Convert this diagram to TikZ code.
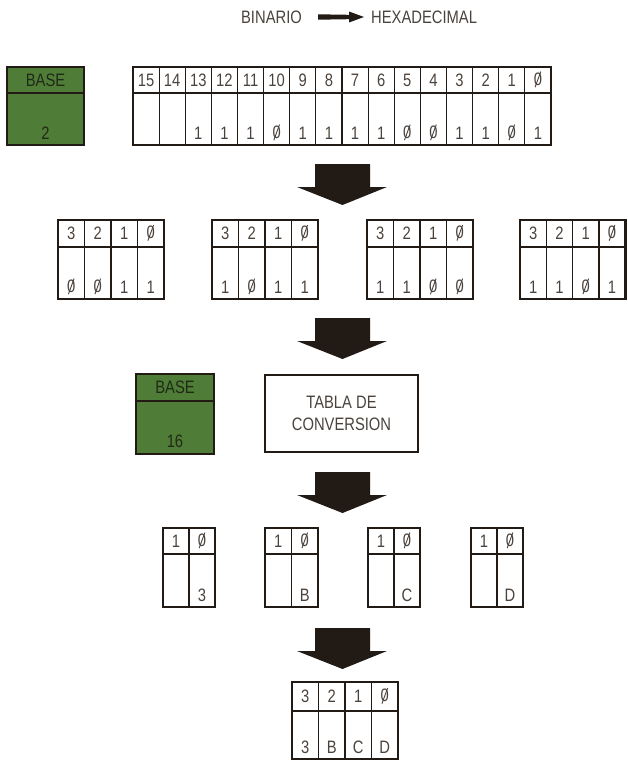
\documentclass[tikz,border=0pt]{standalone}
\usepackage{fontspec}
\setmainfont{Liberation Sans}
\definecolor{ink}{HTML}{221A15}
\definecolor{txt}{HTML}{4A423C}
\definecolor{gtxt}{HTML}{1F2A16}
\definecolor{basegreen}{HTML}{4F7D38}
\newcommand\zs{\ooalign{0\cr\hidewidth\raisebox{-0.1em}{\rotatebox{-24}{\rule{0.06em}{0.95em}}}\hidewidth\cr}}
\tikzset{
  lab/.style={font=\fontsize{18}{18}\selectfont, text=txt, inner sep=0pt, xscale=0.82},
  glab/.style={font=\fontsize{18}{18}\selectfont, text=gtxt, inner sep=0pt, xscale=0.82},
  outerline/.style={draw=ink, line width=2.6pt},
  innerline/.style={draw=ink, line width=1.2pt},
  divline/.style={draw=ink, line width=1.7pt},
  greenbox/.style={draw=ink, line width=2.6pt, fill=basegreen},
  bigarrow/.style={fill=ink, draw=none}
}
% name, xleft, ytop, ydiv, ybot, cellw, n-1, list
\newcommand\drawreg[8]{%
  \foreach \k in {1,...,#7}{\draw[innerline] ({#2+\k*#6},#3) -- ({#2+\k*#6},#5);}
  \draw[divline] (#2,#4) -- ({#2+(#7+1)*#6},#4);
  \draw[outerline] (#2,#3) rectangle ({#2+(#7+1)*#6},#5);
  \foreach \h/\v [count=\k] in {#8}{
    \node[lab] (#1-h\k) at ({#2+(\k-0.5)*#6},{(#3+#4)/2}) {\h};
    \node[lab] (#1-v\k) at ({#2+(\k-0.5)*#6},{#5-12}) {\v};
  }
}
\newcommand\bigdown[1]{%
  \fill[bigarrow] (315,#1) -- (370,#1) -- (370,{#1+23}) -- (387,{#1+23}) -- (342.5,{#1+41}) -- (297,{#1+23}) -- (315,{#1+23}) -- cycle;
}
\begin{document}
\begin{tikzpicture}[x=1pt,y=-1pt]
\useasboundingbox (0,0) rectangle (627,760);

% title
\node[lab, anchor=east] (bin) at (302,17) {BINARIO};
\node[lab, anchor=west] (hex) at (371,17) {HEXADECIMAL};
\fill[ink] (318,14.3) -- (349,14.8) -- (349,11.5) -- (364,17) -- (349,22.5) -- (349,19.2) -- (318,19.7) -- cycle;

% base 2
\draw[greenbox] (7,67) rectangle (84,145);
\draw[divline] (7,93) -- (84,93);
\node[glab] (b2a) at (45.5,80) {BASE};
\node[glab] (b2b) at (45.5,133) {2};

% 16-bit register
\drawreg{r}{133}{67}{93}{145}{26.125}{15}{15/{},14/{},13/1,12/1,11/1,10/\zs,9/1,8/1,7/1,6/1,5/\zs,4/\zs,3/1,2/1,1/\zs,\zs/1}

\bigdown{164}

% nibbles
\drawreg{ga}{58}{220}{247}{299}{26.5}{3}{3/\zs,2/\zs,1/1,\zs/1}
\drawreg{gb}{212}{220}{247}{299}{26.5}{3}{3/1,2/\zs,1/1,\zs/1}
\drawreg{gc}{367}{220}{247}{299}{26.5}{3}{3/1,2/1,1/\zs,\zs/\zs}
\drawreg{gd}{520}{220}{247}{299}{26.3}{3}{3/1,2/1,1/\zs,\zs/1}

\bigdown{318}

% base 16 and table
\draw[greenbox] (136,374) rectangle (214,454);
\draw[divline] (136,401) -- (214,401);
\node[glab] (b16a) at (175,387.5) {BASE};
\node[glab] (b16b) at (175,441) {16};
\draw[outerline] (265,375) rectangle (418,452);
\node[lab, align=center, font=\fontsize{18}{22}\selectfont] (tabla) at (341.5,413) {TABLA DE\\CONVERSION};

\bigdown{472}

% hex digits
\drawreg{ha}{163}{528}{554}{607}{26}{1}{1/{},\zs/3}
\drawreg{hb}{265}{528}{554}{607}{26.5}{1}{1/{},\zs/B}
\drawreg{hc}{368}{528}{554}{607}{26}{1}{1/{},\zs/C}
\drawreg{hd}{471}{528}{554}{607}{26}{1}{1/{},\zs/D}

\bigdown{628}

% result
\drawreg{res}{292}{682}{711}{759}{26.5}{3}{3/3,2/B,1/C,\zs/D}
\end{tikzpicture}
\end{document}
